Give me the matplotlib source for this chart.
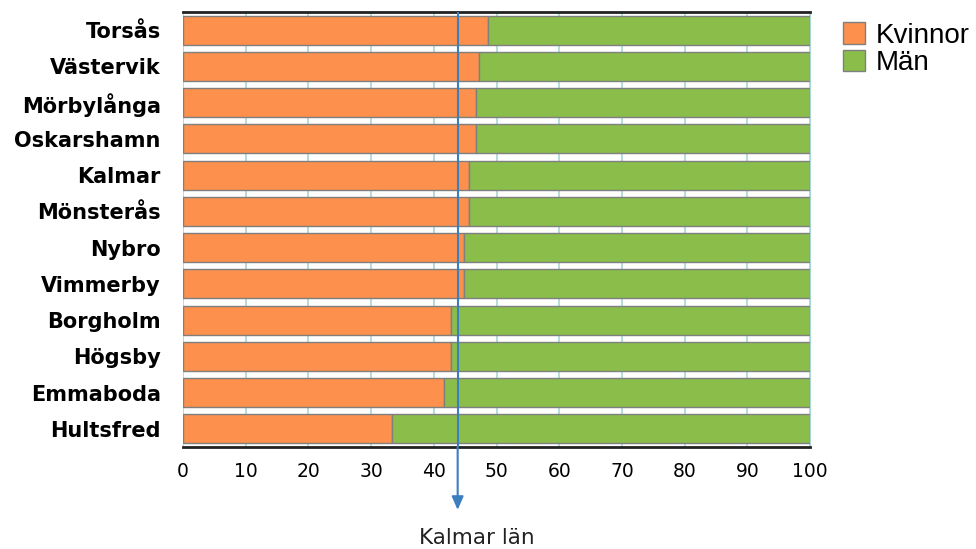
import numpy as np
import matplotlib
matplotlib.use('Agg')
import matplotlib.pyplot as plt

kommuner = ['Torsås', 'Västervik', 'Mörbylånga', 'Oskarshamn', 'Kalmar', 'Mönsterås',
            'Nybro', 'Vimmerby', 'Borgholm', 'Högsby', 'Emmaboda', 'Hultsfred']
kvinnor = [48.6, 47.2, 46.8, 46.8, 45.6, 45.6, 44.8, 44.8, 42.7, 42.7, 41.7, 33.3]
man = [100 - k for k in kvinnor]
lan_varde = 43.8
lan_namn = 'Kalmar län'

orange = '#fd904c'
green = '#8bbd4a'
blue = '#3b7fbf'

fig = plt.figure(figsize=(9.76, 5.49), dpi=100)
ax = fig.add_axes([0.1875, 0.186, 0.6425, 0.792])

y = np.arange(len(kommuner))
ax.barh(y, kvinnor, height=0.8, color=orange, edgecolor='#7f7f7f', linewidth=1, label='Kvinnor', zorder=2)
ax.barh(y, man, left=kvinnor, height=0.8, color=green, edgecolor='#7f7f7f', linewidth=1, label='Män', zorder=2)

ax.set_xlim(0, 100)
ax.set_ylim(len(kommuner) - 0.5, -0.5)
ax.set_xticks(range(0, 101, 10))
ax.set_yticks(y)
ax.set_yticklabels(kommuner, fontsize=15, fontweight='bold')
ax.tick_params(axis='y', length=0, pad=16)
ax.tick_params(axis='x', length=0, pad=11, labelsize=13.5)
ax.grid(axis='x', color='#a9d6d6', linewidth=1.2, zorder=0)

for s in ['top', 'bottom']:
    ax.spines[s].set_color('#222222')
    ax.spines[s].set_linewidth(2)
ax.spines['left'].set_visible(False)
ax.spines['right'].set_color('#a9d6d6')

# line for the county and arrow below the axis
ax.axvline(lan_varde, color=blue, linewidth=1.5, zorder=3)
ax.annotate('', xy=(lan_varde, -0.145), xytext=(lan_varde, 0.0),
            xycoords=('data', 'axes fraction'),
            arrowprops=dict(arrowstyle='-|>,head_length=0.8,head_width=0.35',
                            color=blue, lw=1.5, shrinkA=0, shrinkB=0))
ax.annotate(lan_namn, xy=(lan_varde, -0.145), xycoords=('data', 'axes fraction'),
            xytext=(14, -20), textcoords='offset points', ha='center', va='center',
            fontsize=15.5, color='#222222')

leg = ax.legend(loc='upper left', bbox_to_anchor=(1.035, 1.002), frameon=False,
                prop={'family': 'Liberation Sans', 'size': 20},
                handlelength=0.8, handleheight=0.8, handletextpad=0.36,
                labelspacing=0.05, borderaxespad=0)

fig.savefig('out.png', dpi=100)
